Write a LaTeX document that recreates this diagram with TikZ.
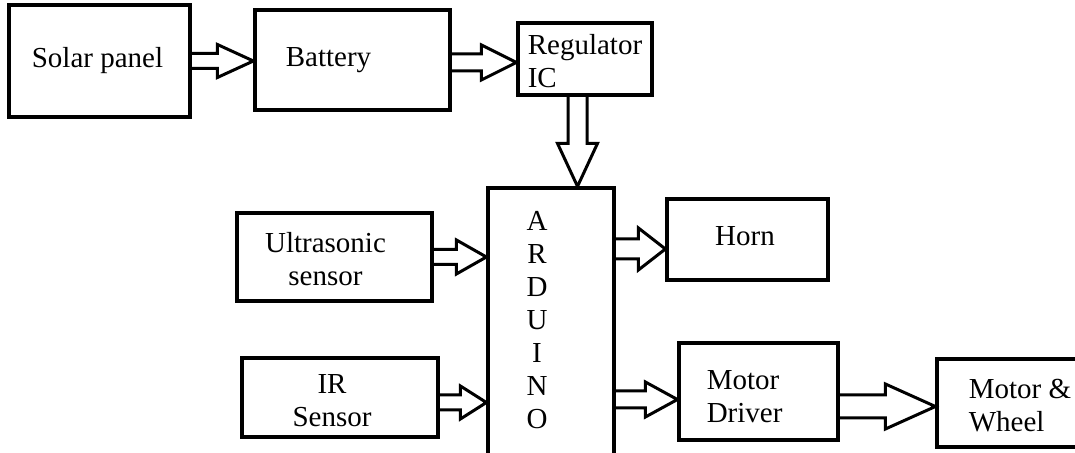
\documentclass[tikz,border=0pt]{standalone}
\usepackage{fontspec}
\setmainfont{Liberation Serif}
\usetikzlibrary{calc}
\newcommand{\arrshaft}{4pt}
\newcommand{\arrwing}{9pt}
\newcommand{\arrhead}{16pt}
\tikzset{
  blockbox/.style={draw=black,line width=1.6pt,inner sep=0pt},
  blocktext/.style={inner sep=0pt,align=center,font=\fontsize{14.5}{16.5}\selectfont},
  arrsize/.code args={#1/#2/#3}{\def\arrshaft{#1}\def\arrwing{#2}\def\arrhead{#3}},
  hollow/.style={line width=1.5pt,to path={let \p1=(\tikztostart),\p2=(\tikztotarget) in
    (\x1,\y1+\arrshaft)--(\x2-\arrhead,\y1+\arrshaft)--(\x2-\arrhead,\y1+\arrwing)
    --(\x2,\y1)--(\x2-\arrhead,\y1-\arrwing)--(\x2-\arrhead,\y1-\arrshaft)--(\x1,\y1-\arrshaft)}},
  hollowdown/.style={line width=1.5pt,to path={let \p1=(\tikztostart),\p2=(\tikztotarget) in
    (\x1-\arrshaft,\y1)--(\x1-\arrshaft,\y2+\arrhead)--(\x1-\arrwing,\y2+\arrhead)
    --(\x1,\y2)--(\x1+\arrwing,\y2+\arrhead)--(\x1+\arrshaft,\y2+\arrhead)--(\x1+\arrshaft,\y1)}}
}
\begin{document}
\begin{tikzpicture}[x=0.5pt,y=-0.5pt]
  \useasboundingbox (0,0) rectangle (1075,453);
  % boxes
  \node[blockbox,minimum width=90.5pt,minimum height=56pt] (sol) at (99.5,61) {};
  \node[blockbox,minimum width=97.5pt,minimum height=50pt] (bat) at (352.5,60) {};
  \node[blockbox,minimum width=67pt,minimum height=36pt] (reg) at (585,59) {};
  \node[blockbox,minimum width=63pt,minimum height=136pt] (ard) at (551,324) {};
  \node[blockbox,minimum width=97.5pt,minimum height=44pt] (ult) at (334.5,257) {};
  \node[blockbox,minimum width=98pt,minimum height=39.5pt] (ir) at (340,397.5) {};
  \node[blockbox,minimum width=80.5pt,minimum height=40.5pt] (horn) at (747.5,239.5) {};
  \node[blockbox,minimum width=79.5pt,minimum height=48.5pt] (drv) at (758.5,391.5) {};
  \node[blockbox,minimum width=74pt,minimum height=44pt] (mw) at (1011,403) {};
  % texts
  \node[blocktext] (soltxt) at ([xshift=-1pt]sol.center) {Solar panel};
  \node[blocktext] (battxt) at ([xshift=-12pt]bat.center) {Battery};
  \node[blocktext,anchor=west,align=left] (regtxt) at ([xshift=5.5pt,yshift=-1pt]reg.west) {Regulator\\IC};
  \node[blocktext] (ardtxt) at ([xshift=-7pt,yshift=2pt]ard.center) {A\\R\\D\\U\\I\\N\\O};
  \node[blocktext] (ulttxt) at ([xshift=-4.5pt,yshift=-1pt]ult.center) {Ultrasonic\\sensor};
  \node[blocktext] (irtxt) at ([xshift=-4pt,yshift=-1.5pt]ir.center) {IR\\Sensor};
  \node[blocktext] (horntxt) at ([xshift=-1.25pt,yshift=1.5pt]horn.center) {Horn};
  \node[blocktext,anchor=west,align=left] (drvtxt) at ([xshift=14.5pt,yshift=-2.5pt]drv.west) {Motor\\Driver};
  \node[blocktext,anchor=west,align=left] (mwtxt) at ([xshift=16.5pt,yshift=-1.5pt]mw.west) {Motor \&\\Wheel};
  % arrows
  \draw[hollow,arrsize=3.75pt/8.25pt/18pt] (sol.east) to (bat.west);
  \draw[hollow,arrsize=4.25pt/8.75pt/17.5pt] ([yshift=-1.25pt]bat.east) to (reg.west);
  \draw[hollowdown,arrsize=4.75pt/10pt/21.5pt] ([xshift=-3.75pt]reg.south) to (ard.north);
  \draw[hollow,arrsize=3.75pt/8.5pt/15pt] (ult.east) to (ard.west);
  \draw[hollow,arrsize=3.75pt/8.25pt/13pt] ([yshift=-2.5pt]ir.east) to (ard.west);
  \draw[hollow,arrsize=5pt/10.5pt/13.5pt] ($(ard.east |- horn.west)+(0pt,-4.75pt)$) to (horn.west);
  \draw[hollow,arrsize=4.25pt/8.75pt/16pt] ($(ard.east |- drv.west)+(0pt,-4pt)$) to (drv.west);
  \draw[hollow,arrsize=5.75pt/11.25pt/25pt] ([yshift=-7.5pt]drv.east) to (mw.west);
\end{tikzpicture}
\end{document}
